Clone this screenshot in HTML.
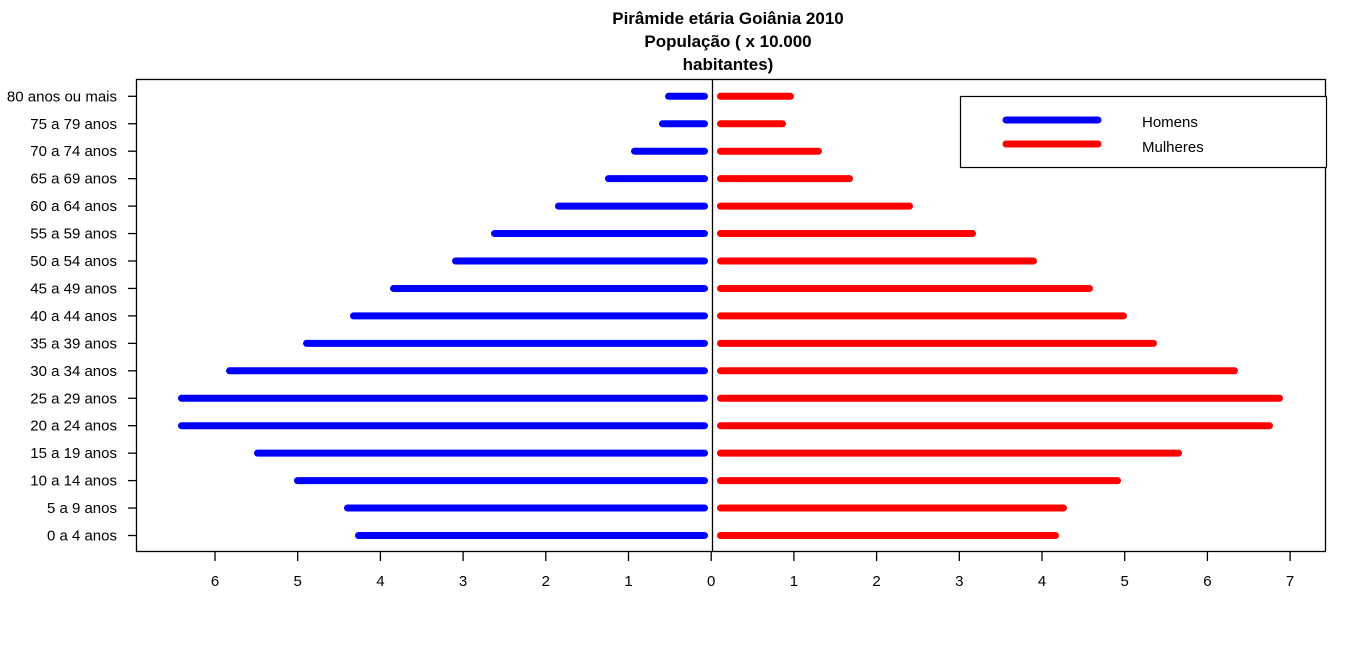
<!DOCTYPE html>
<html><head><meta charset="utf-8"><style>body{margin:0;background:#fff}svg{display:block}text{font-family:"Liberation Sans",Arial,sans-serif;fill:#000}</style></head>
<body>
<svg width="1366" height="650" viewBox="0 0 1366 650" xmlns="http://www.w3.org/2000/svg">
<rect width="1366" height="650" fill="#fff"/>
<g font-weight="bold" font-size="17" text-anchor="middle">
<text x="728" y="24">Pirâmide etária Goiânia 2010</text>
<text x="728" y="47">População ( x 10.000</text>
<text x="728" y="70">habitantes)</text>
</g>
<rect x="136.5" y="79.5" width="1189" height="472" fill="none" stroke="#000" stroke-width="1.3"/>
<line x1="712.5" y1="79" x2="712.5" y2="552" stroke="#000" stroke-width="1.3"/>
<g fill="#0000ff">
<rect x="665" y="92.8" width="43" height="7" rx="3.5"/>
<rect x="659" y="120.25" width="49" height="7" rx="3.5"/>
<rect x="631" y="147.7" width="77" height="7" rx="3.5"/>
<rect x="605" y="175.15" width="103" height="7" rx="3.5"/>
<rect x="555" y="202.6" width="153" height="7" rx="3.5"/>
<rect x="491" y="230.05" width="217" height="7" rx="3.5"/>
<rect x="452" y="257.5" width="256" height="7" rx="3.5"/>
<rect x="390" y="284.95" width="318" height="7" rx="3.5"/>
<rect x="350" y="312.4" width="358" height="7" rx="3.5"/>
<rect x="303" y="339.85" width="405" height="7" rx="3.5"/>
<rect x="226" y="367.3" width="482" height="7" rx="3.5"/>
<rect x="178" y="394.75" width="530" height="7" rx="3.5"/>
<rect x="178" y="422.2" width="530" height="7" rx="3.5"/>
<rect x="254" y="449.65" width="454" height="7" rx="3.5"/>
<rect x="294" y="477.1" width="414" height="7" rx="3.5"/>
<rect x="344" y="504.55" width="364" height="7" rx="3.5"/>
<rect x="355" y="532" width="353" height="7" rx="3.5"/>
</g>
<g fill="#ff0000">
<rect x="717" y="92.8" width="77" height="7" rx="3.5"/>
<rect x="717" y="120.25" width="69" height="7" rx="3.5"/>
<rect x="717" y="147.7" width="105" height="7" rx="3.5"/>
<rect x="717" y="175.15" width="136" height="7" rx="3.5"/>
<rect x="717" y="202.6" width="196" height="7" rx="3.5"/>
<rect x="717" y="230.05" width="259" height="7" rx="3.5"/>
<rect x="717" y="257.5" width="320" height="7" rx="3.5"/>
<rect x="717" y="284.95" width="376" height="7" rx="3.5"/>
<rect x="717" y="312.4" width="410" height="7" rx="3.5"/>
<rect x="717" y="339.85" width="440" height="7" rx="3.5"/>
<rect x="717" y="367.3" width="521" height="7" rx="3.5"/>
<rect x="717" y="394.75" width="566" height="7" rx="3.5"/>
<rect x="717" y="422.2" width="556" height="7" rx="3.5"/>
<rect x="717" y="449.65" width="465" height="7" rx="3.5"/>
<rect x="717" y="477.1" width="404" height="7" rx="3.5"/>
<rect x="717" y="504.55" width="350" height="7" rx="3.5"/>
<rect x="717" y="532" width="342" height="7" rx="3.5"/>
</g>
<rect x="960.5" y="96.5" width="366" height="71" fill="#fff" stroke="#000" stroke-width="1.2"/>
<line x1="1006" y1="120" x2="1098" y2="120" stroke="#0000ff" stroke-width="7" stroke-linecap="round"/>
<line x1="1006" y1="144" x2="1098" y2="144" stroke="#ff0000" stroke-width="7" stroke-linecap="round"/>
<text x="1142" y="127" font-size="15">Homens</text>
<text x="1142" y="152" font-size="15">Mulheres</text>
<g stroke="#000" stroke-width="1.3">
<line x1="128" y1="96.3" x2="136" y2="96.3"/><line x1="128" y1="123.75" x2="136" y2="123.75"/><line x1="128" y1="151.2" x2="136" y2="151.2"/><line x1="128" y1="178.65" x2="136" y2="178.65"/><line x1="128" y1="206.1" x2="136" y2="206.1"/><line x1="128" y1="233.55" x2="136" y2="233.55"/><line x1="128" y1="261" x2="136" y2="261"/><line x1="128" y1="288.45" x2="136" y2="288.45"/><line x1="128" y1="315.9" x2="136" y2="315.9"/><line x1="128" y1="343.35" x2="136" y2="343.35"/><line x1="128" y1="370.8" x2="136" y2="370.8"/><line x1="128" y1="398.25" x2="136" y2="398.25"/><line x1="128" y1="425.7" x2="136" y2="425.7"/><line x1="128" y1="453.15" x2="136" y2="453.15"/><line x1="128" y1="480.6" x2="136" y2="480.6"/><line x1="128" y1="508.05" x2="136" y2="508.05"/><line x1="128" y1="535.5" x2="136" y2="535.5"/>
<line x1="215" y1="552" x2="215" y2="561"/><line x1="297.7" y1="552" x2="297.7" y2="561"/><line x1="380.4" y1="552" x2="380.4" y2="561"/><line x1="463.1" y1="552" x2="463.1" y2="561"/><line x1="545.8" y1="552" x2="545.8" y2="561"/><line x1="628.5" y1="552" x2="628.5" y2="561"/><line x1="711.2" y1="552" x2="711.2" y2="561"/><line x1="793.9" y1="552" x2="793.9" y2="561"/><line x1="876.6" y1="552" x2="876.6" y2="561"/><line x1="959.3" y1="552" x2="959.3" y2="561"/><line x1="1042" y1="552" x2="1042" y2="561"/><line x1="1124.7" y1="552" x2="1124.7" y2="561"/><line x1="1207.4" y1="552" x2="1207.4" y2="561"/><line x1="1290.1" y1="552" x2="1290.1" y2="561"/>
</g>
<g font-size="15" text-anchor="end">
<text x="117" y="101.3">80 anos ou mais</text>
<text x="117" y="128.75">75 a 79 anos</text>
<text x="117" y="156.2">70 a 74 anos</text>
<text x="117" y="183.65">65 a 69 anos</text>
<text x="117" y="211.1">60 a 64 anos</text>
<text x="117" y="238.55">55 a 59 anos</text>
<text x="117" y="266">50 a 54 anos</text>
<text x="117" y="293.45">45 a 49 anos</text>
<text x="117" y="320.9">40 a 44 anos</text>
<text x="117" y="348.35">35 a 39 anos</text>
<text x="117" y="375.8">30 a 34 anos</text>
<text x="117" y="403.25">25 a 29 anos</text>
<text x="117" y="430.7">20 a 24 anos</text>
<text x="117" y="458.15">15 a 19 anos</text>
<text x="117" y="485.6">10 a 14 anos</text>
<text x="117" y="513.05">5 a 9 anos</text>
<text x="117" y="540.5">0 a 4 anos</text>
</g>
<g font-size="15" text-anchor="middle">
<text x="215" y="586">6</text><text x="297.7" y="586">5</text><text x="380.4" y="586">4</text><text x="463.1" y="586">3</text><text x="545.8" y="586">2</text><text x="628.5" y="586">1</text><text x="711.2" y="586">0</text><text x="793.9" y="586">1</text><text x="876.6" y="586">2</text><text x="959.3" y="586">3</text><text x="1042" y="586">4</text><text x="1124.7" y="586">5</text><text x="1207.4" y="586">6</text><text x="1290.1" y="586">7</text>
</g>
</svg>
</body></html>
